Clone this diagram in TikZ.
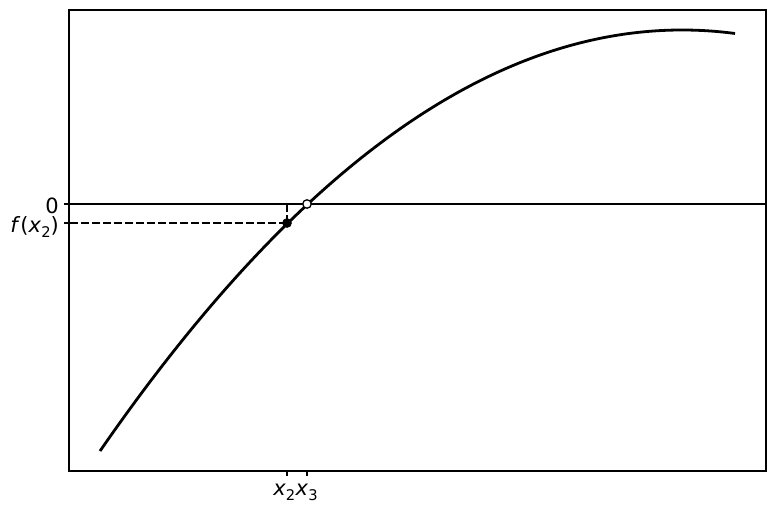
\documentclass[tikz,border=0pt]{standalone}
\usepackage{fontspec}
\setmainfont{DejaVu Sans}
\usetikzlibrary{positioning,calc}

\newcommand{\subtxt}[1]{\raisebox{-0.24em}{\fontsize{14.7}{15}\selectfont #1}}
\tikzset{
  axisline/.style={line width=1.1pt},
  ticklabel/.style={inner sep=0pt, font=\fontsize{21}{24}\selectfont},
  filledpt/.style={circle, fill=black, inner sep=0pt, minimum size=9.7pt},
  openpt/.style={circle, draw=black, fill=white, line width=1.3pt, inner sep=0pt, minimum size=8.5pt},
  guide/.style={line width=2.1pt, dash pattern=on 7.7pt off 3.3pt},
}

\begin{document}
\begin{tikzpicture}[x=1pt,y=-1pt]
    \useasboundingbox (0,0) rectangle (776,514);
    % axes frame
    \coordinate (tl) at (69,10);
    \coordinate (br) at (766,471);
    \draw[axisline] (tl) rectangle (br);
    % zero line
    \coordinate (zl) at (69,204);
    \coordinate (zr) at (766,204);
    \draw[line width=2.1pt] (zl) -- (zr);
    % curve
    \draw[line width=2.8pt] plot[domain=100:735, samples=120, smooth]
      (\x, {30 + 12.43*((\x-682)/100)^2});
    % the two points
    \coordinate (p2) at (287,223);
    \coordinate (p3) at (307,204);
    \draw[guide] (p2) -- (p2 -| tl);
    \draw[guide] (p2) -- (p2 |- zl);
    \node[filledpt] (fx2) at (p2) {};
    \node[openpt] (x3pt) at (p3) {};
    % ticks
    \draw[axisline] (zl) -- ++(-4.9,0);
    \draw[axisline] (p2 -| tl) -- ++(-4.9,0);
    \draw[axisline] (p2 |- br) -- ++(0,4.9);
    \draw[axisline] (p3 |- br) -- ++(0,4.9);
    % tick labels
    \node[ticklabel, anchor=base east] (lzero) at (59,213) {0};
    \node[ticklabel, anchor=base east] (lfx) at (59,232) {\textit{f}(\textit{x}\subtxt{2})};
    \node[ticklabel, anchor=base east] (lx2) at (295.5,495) {\textit{x}\subtxt{2}};
    \node[ticklabel, anchor=base west] (lx3) at (295.5,495) {\textit{x}\subtxt{3}};
\end{tikzpicture}
\end{document}
